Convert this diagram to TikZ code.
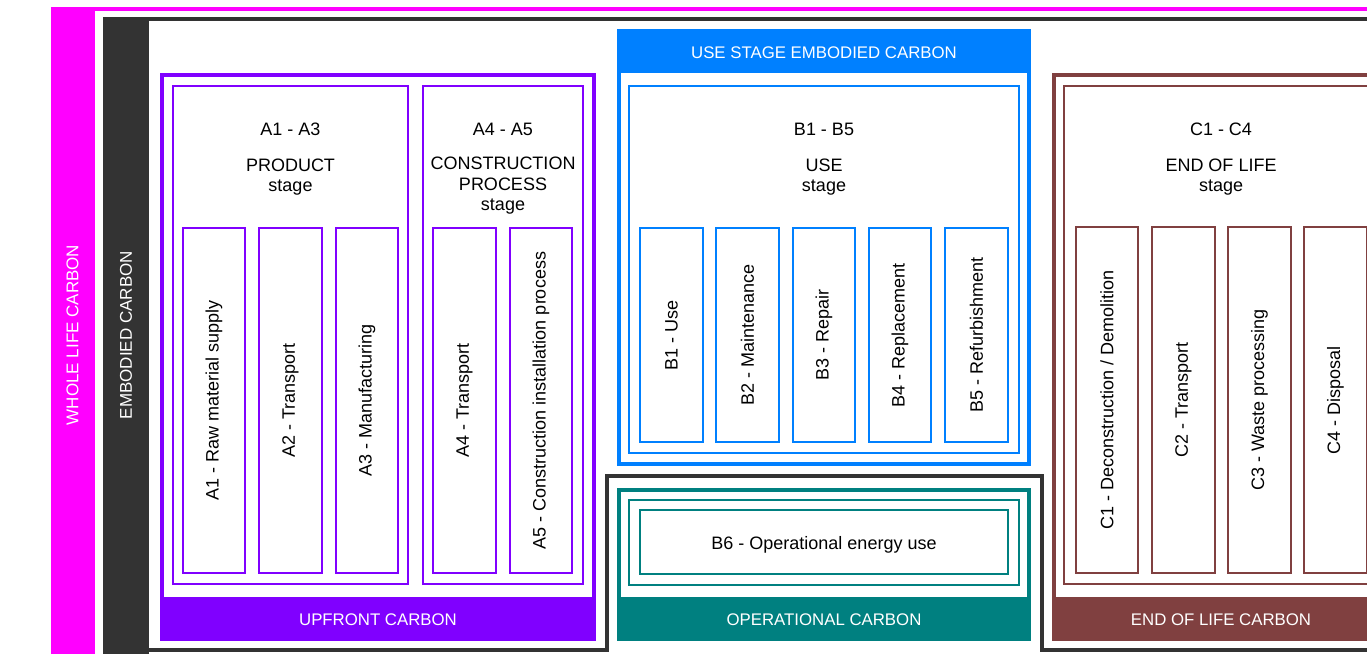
\documentclass[tikz,border=0pt]{standalone}
\usepackage{fontspec}
\setmainfont{Liberation Sans}
\definecolor{wlc}{HTML}{FF00FF}
\definecolor{emb}{HTML}{333333}
\definecolor{upf}{HTML}{8000FF}
\definecolor{usec}{HTML}{0080FF}
\definecolor{opc}{HTML}{008080}
\definecolor{eol}{HTML}{804040}
\newcommand\mysubbox[7]{%
  \pgfmathsetmacro\mycx{(#3+#4)/2}\pgfmathsetmacro\mycy{(#5+#6)/2}%
  \pgfmathsetmacro\myww{#4-#3-1.6}\pgfmathsetmacro\myhh{#6-#5-1.6}%
  \node[subbox, draw=#2, minimum width=\myhh, minimum height=\myww] (#1) at (\mycx,\mycy) {#7};}
\begin{document}
\begin{tikzpicture}[x=1pt,y=-1pt,
  lbl/.style={font=\fontsize{18}{21}\selectfont, anchor=base, inner sep=0, text=black},
  barlbl/.style={font=\fontsize{16.8}{20}\selectfont, anchor=base, inner sep=0, text=white},
  sidelbl/.style={font=\fontsize{17}{20}\selectfont, rotate=90, inner sep=0, text=white},
  subbox/.style={line width=1.6pt, rotate=90, inner sep=0, font=\fontsize{18}{21}\selectfont, text=black},
  grp/.style={line width=2pt},
  frame/.style={line width=4pt}]
\useasboundingbox (0,0) rectangle (1367,653);
\clip (0,0) rectangle (1367,653);
\fill[white] (0,0) rectangle (1367,653);
% whole life carbon frame
\fill[wlc] (51,7) rectangle (95,660);
\draw[wlc, frame] (53,660) -- (53,9) -- (1400,9);
\node[sidelbl] (wlclbl) at (72.5,335) {WHOLE LIFE CARBON};
% embodied carbon frame
\fill[emb] (103,17) rectangle (149,660);
\draw[emb, frame] (105,660) -- (105,19) -- (1400,19);
\draw[emb, frame, line join=miter] (105,650) -- (606.5,650) -- (606.5,476) -- (1042,476) -- (1042,650) -- (1400,650);
\node[sidelbl] (emblbl) at (126,335) {EMBODIED CARBON};
% upfront
\draw[upf, frame] (162,75) rectangle (594,639);
\fill[upf] (160,597) rectangle (596,641);
\node[barlbl] (upflbl) at (378,625) {UPFRONT CARBON};
\draw[upf, grp] (173,86) rectangle (408,584);
\draw[upf, grp] (423,86) rectangle (583,584);
\node[lbl] (a13) at (290.5,135) {A1 - A3};
\node[lbl] (a13b) at (290.5,171) {PRODUCT};
\node[lbl] (a13c) at (290.5,191) {stage};
\node[lbl] (a45) at (503,135) {A4 - A5};
\node[lbl] (a45b) at (503,169.5) {CONSTRUCTION};
\node[lbl] (a45c) at (503,190) {PROCESS};
\node[lbl] (a45d) at (503,210.5) {stage};
\mysubbox{a1}{upf}{182}{246}{227}{574}{A1 - Raw material supply}
\mysubbox{a2}{upf}{258}{323}{227}{574}{A2 - Transport}
\mysubbox{a3}{upf}{335}{399}{227}{574}{A3 - Manufacturing}
\mysubbox{a4}{upf}{432}{497}{227}{574}{A4 - Transport}
\mysubbox{a5}{upf}{509}{573}{227}{574}{A5 - Construction installation process}
% use stage
\draw[usec, frame] (619,31) rectangle (1029,464);
\fill[usec] (617,29) rectangle (1031,73);
\node[barlbl] (uselbl) at (824,58) {USE STAGE EMBODIED CARBON};
\draw[usec, grp] (629,86) rectangle (1019,453);
\node[lbl] (b15) at (824,135) {B1 - B5};
\node[lbl] (b15b) at (824,171) {USE};
\node[lbl] (b15c) at (824,191) {stage};
\mysubbox{b1}{usec}{639}{704}{227}{443}{B1 - Use}
\mysubbox{b2}{usec}{715}{780}{227}{443}{B2 - Maintenance}
\mysubbox{b3}{usec}{792}{856}{227}{443}{B3 - Repair}
\mysubbox{b4}{usec}{868}{932}{227}{443}{B4 - Replacement}
\mysubbox{b5}{usec}{944}{1009}{227}{443}{B5 - Refurbishment}
% operational
\draw[opc, frame] (619,490) rectangle (1029,639);
\fill[opc] (617,597) rectangle (1031,641);
\node[barlbl] (opclbl) at (824,625) {OPERATIONAL CARBON};
\draw[opc, grp] (629,500) rectangle (1019,585);
\draw[opc, grp] (640,510) rectangle (1008,574);
\node[lbl] (b6) at (824,549) {B6 - Operational energy use};
% end of life
\draw[eol, frame] (1054,75) rectangle (1388,639);
\fill[eol] (1052,597) rectangle (1390,641);
\node[barlbl] (eollbl) at (1221,625) {END OF LIFE CARBON};
\draw[eol, grp] (1064,86) rectangle (1378,584);
\node[lbl] (c14) at (1221,135) {C1 - C4};
\node[lbl] (c14b) at (1221,171) {END OF LIFE};
\node[lbl] (c14c) at (1221,191) {stage};
\mysubbox{c1}{eol}{1075}{1139}{226}{574}{C1 - Deconstruction / Demolition}
\mysubbox{c2}{eol}{1151}{1216}{226}{574}{C2 - Transport}
\mysubbox{c3}{eol}{1227}{1292}{226}{574}{C3 - Waste processing}
\mysubbox{c4}{eol}{1303}{1368}{226}{574}{C4 - Disposal}
\end{tikzpicture}
\end{document}
